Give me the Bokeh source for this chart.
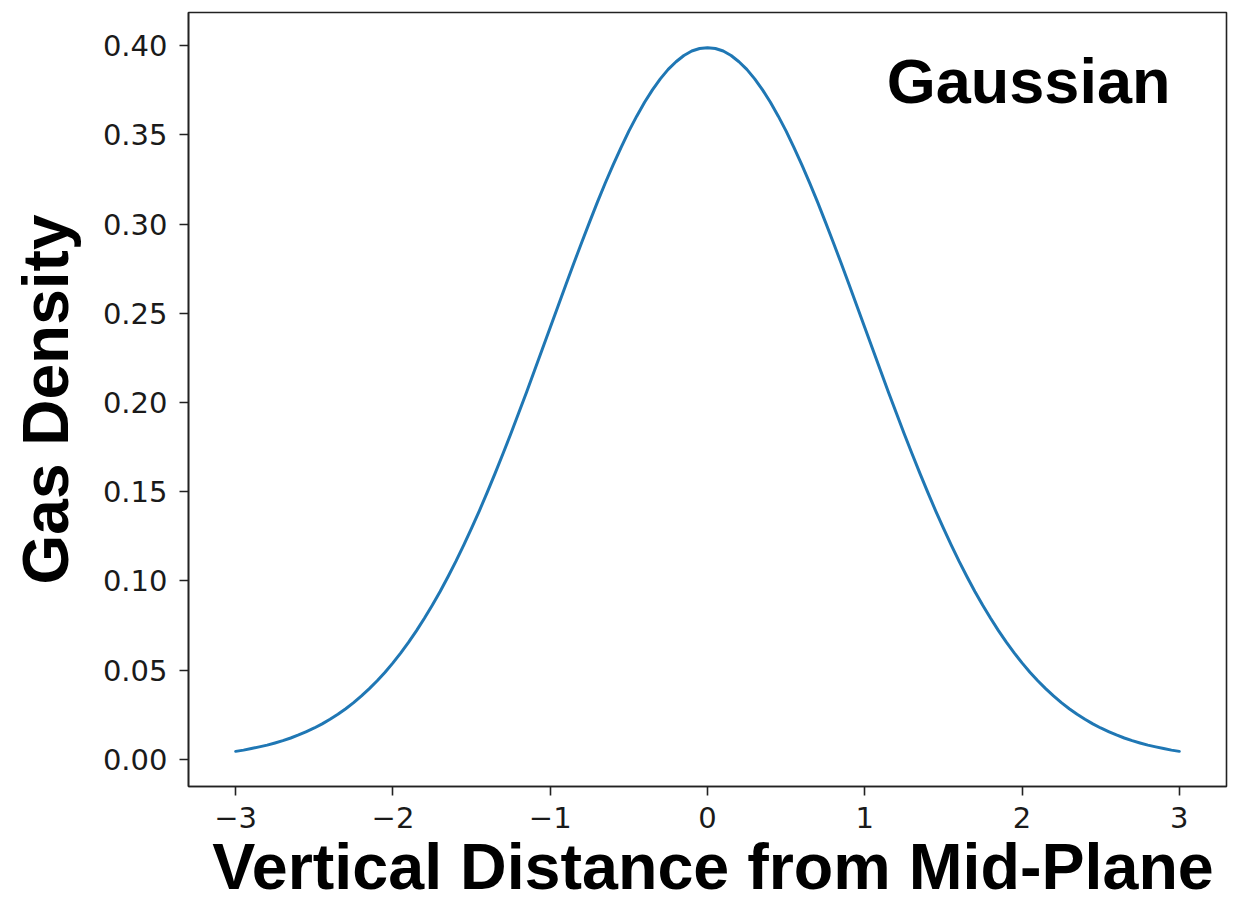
from bokeh.plotting import figure
from bokeh.models import Range1d, FixedTicker, Label, ColumnDataSource
from bokeh.embed import file_html
from bokeh.resources import INLINE

# Gas density profile across the mid-plane (Gaussian shape)
distance = [-3.00, -2.95, -2.90, -2.85, -2.80, -2.75, -2.70, -2.65, -2.60, -2.55,
            -2.50, -2.45, -2.40, -2.35, -2.30, -2.25, -2.20, -2.15, -2.10, -2.05,
            -2.00, -1.95, -1.90, -1.85, -1.80, -1.75, -1.70, -1.65, -1.60, -1.55,
            -1.50, -1.45, -1.40, -1.35, -1.30, -1.25, -1.20, -1.15, -1.10, -1.05,
            -1.00, -0.95, -0.90, -0.85, -0.80, -0.75, -0.70, -0.65, -0.60, -0.55,
            -0.50, -0.45, -0.40, -0.35, -0.30, -0.25, -0.20, -0.15, -0.10, -0.05,
            0.00, 0.05, 0.10, 0.15, 0.20, 0.25, 0.30, 0.35, 0.40, 0.45,
            0.50, 0.55, 0.60, 0.65, 0.70, 0.75, 0.80, 0.85, 0.90, 0.95,
            1.00, 1.05, 1.10, 1.15, 1.20, 1.25, 1.30, 1.35, 1.40, 1.45,
            1.50, 1.55, 1.60, 1.65, 1.70, 1.75, 1.80, 1.85, 1.90, 1.95,
            2.00, 2.05, 2.10, 2.15, 2.20, 2.25, 2.30, 2.35, 2.40, 2.45,
            2.50, 2.55, 2.60, 2.65, 2.70, 2.75, 2.80, 2.85, 2.90, 2.95, 3.00]
density = [0.0044, 0.0051, 0.0060, 0.0069, 0.0079, 0.0091, 0.0104, 0.0119, 0.0136, 0.0155,
           0.0175, 0.0198, 0.0224, 0.0252, 0.0283, 0.0317, 0.0355, 0.0396, 0.0440, 0.0488,
           0.0540, 0.0596, 0.0656, 0.0721, 0.0790, 0.0863, 0.0940, 0.1023, 0.1109, 0.1200,
           0.1295, 0.1394, 0.1497, 0.1604, 0.1714, 0.1826, 0.1942, 0.2059, 0.2179, 0.2299,
           0.2420, 0.2541, 0.2661, 0.2780, 0.2897, 0.3011, 0.3123, 0.3230, 0.3332, 0.3429,
           0.3521, 0.3605, 0.3683, 0.3752, 0.3814, 0.3867, 0.3910, 0.3945, 0.3970, 0.3984,
           0.3989, 0.3984, 0.3970, 0.3945, 0.3910, 0.3867, 0.3814, 0.3752, 0.3683, 0.3605,
           0.3521, 0.3429, 0.3332, 0.3230, 0.3123, 0.3011, 0.2897, 0.2780, 0.2661, 0.2541,
           0.2420, 0.2299, 0.2179, 0.2059, 0.1942, 0.1826, 0.1714, 0.1604, 0.1497, 0.1394,
           0.1295, 0.1200, 0.1109, 0.1023, 0.0940, 0.0863, 0.0790, 0.0721, 0.0656, 0.0596,
           0.0540, 0.0488, 0.0440, 0.0396, 0.0355, 0.0317, 0.0283, 0.0252, 0.0224, 0.0198,
           0.0175, 0.0155, 0.0136, 0.0119, 0.0104, 0.0091, 0.0079, 0.0069, 0.0060, 0.0051, 0.0044]

x_ticks = [-3, -2, -1, 0, 1, 2, 3]
x_tick_labels = ["\u22123", "\u22122", "\u22121", "0", "1", "2", "3"]
y_ticks = [0.0, 0.05, 0.10, 0.15, 0.20, 0.25, 0.30, 0.35, 0.40]
y_tick_labels = ["0.00", "0.05", "0.10", "0.15", "0.20", "0.25", "0.30", "0.35", "0.40"]

x_title = "Vertical Distance from Mid-Plane"
y_title = "Gas Density"
note = "Gaussian"

TITLE_FONT = "Liberation Sans"
TICK_FONT = "DejaVu Sans"

p = figure(width=1243, height=902, output_backend="svg", toolbar_location=None,
           x_range=Range1d(-3.3, 3.3), y_range=Range1d(-0.0153, 0.4186),
           min_border_left=188, min_border_right=17, min_border_top=12,
           min_border_bottom=116)

p.background_fill_color = "white"
p.border_fill_color = "white"
p.grid.visible = False
p.outline_line_color = "#222222"
p.outline_line_width = 1.6
p.outline_line_alpha = 1.0

src = ColumnDataSource(dict(x=distance, y=density))
p.line("x", "y", source=src, line_color="#1f77b4", line_width=3, line_join="round",
       line_cap="round")

for ax in (p.xaxis[0], p.yaxis[0]):
    ax.axis_line_color = "#222222"
    ax.axis_line_width = 1.6
    ax.major_tick_line_color = "#222222"
    ax.major_tick_line_width = 1.6
    ax.major_tick_out = 9
    ax.major_tick_in = 0
    ax.minor_tick_line_color = None
    ax.major_label_text_font = TICK_FONT
    ax.major_label_text_font_size = "29px"
    ax.major_label_text_color = "#1a1a1a"
    ax.axis_label_text_font = TITLE_FONT
    ax.axis_label_text_font_style = "bold"
    ax.axis_label_text_font_size = "64px"
    ax.axis_label_text_color = "black"

p.xaxis.ticker = FixedTicker(ticks=x_ticks)
p.xaxis.major_label_overrides = dict(zip(x_ticks, x_tick_labels))
p.xaxis.major_label_standoff = 11

p.yaxis.ticker = FixedTicker(ticks=y_ticks)
p.yaxis.major_label_overrides = dict(zip(y_ticks, y_tick_labels))
p.yaxis.major_label_standoff = 12
p.yaxis.axis_label = y_title
p.yaxis.axis_label_standoff = 18

# x-axis title in the bottom panel, close to the lower edge
p.add_layout(Label(x=0.035, y=-0.0605, text=x_title, text_font=TITLE_FONT,
                   text_font_style="bold", text_font_size="64.6px",
                   text_color="black", text_baseline="alphabetic", text_align="center"),
             "below")

p.add_layout(Label(x=1.14, y=0.380, text=note, text_font=TITLE_FONT,
                   text_font_style="bold", text_font_size="63px",
                   text_color="black", text_baseline="alphabetic", text_align="left"))

open("out.html", "w").write(file_html(p, INLINE))
